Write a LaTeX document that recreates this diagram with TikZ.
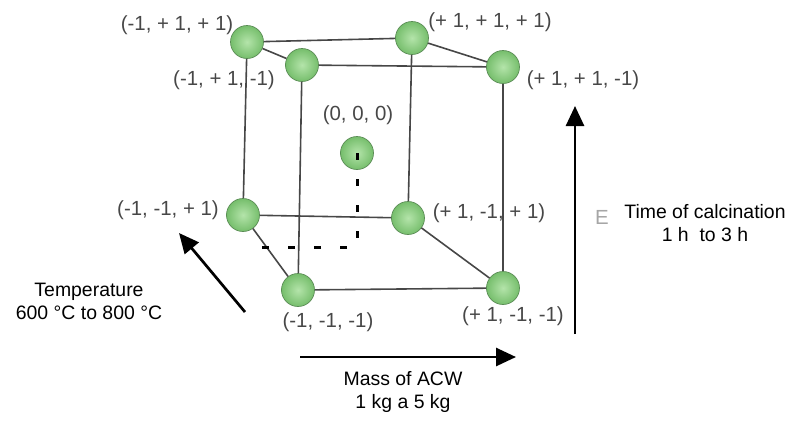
\documentclass[tikz,border=0pt]{standalone}
\usepackage{fontspec}
\setmainfont{Liberation Sans}
\usetikzlibrary{positioning, arrows.meta}

\begin{document}
\begin{tikzpicture}[
    x=1bp, y=-1bp,
    ball/.style={circle, draw={rgb,255:red,90;green,140;blue,85}, line width=0.7bp, shading=radial, inner color={rgb,255:red,180;green,228;blue,170}, outer color={rgb,255:red,118;green,190;blue,108}, minimum size=33bp, inner sep=0pt},
    edge/.style={draw=black!72, line width=1.6bp},
    lab/.style={text=black!72, font=\fontsize{20.5}{23}\selectfont, inner sep=0pt},
    axtext/.style={align=center, font=\fontsize{19.5}{23}\selectfont, inner sep=0pt},
    axis/.style={line width=2.7bp, -{Triangle[length=20bp,width=18bp]}},
    hid/.style={line width=3bp, dash pattern=on 7bp off 19bp}
]
\useasboundingbox (0,0) rectangle (796,422);

% corners of the design cube
\node[ball] (mpp) at (247,42) {};
\node[ball] (ppp) at (412,38) {};
\node[ball] (mpm) at (302,65) {};
\node[ball] (ppm) at (503,67) {};
\node[ball] (mmp) at (243,215) {};
\node[ball] (pmp) at (408,218) {};
\node[ball] (mmm) at (298,290) {};
\node[ball] (pmm) at (503,288) {};
\node[ball] (ooo) at (357,153) {};

% edges
\draw[edge] (mpp) -- (ppp);
\draw[edge] (mpp) -- (mpm);
\draw[edge] (ppp) -- (ppm);
\draw[edge] (mpm) -- (ppm);
\draw[edge] (mpp) -- (mmp);
\draw[edge] (ppp) -- (pmp);
\draw[edge] (mpm) -- (mmm);
\draw[edge] (ppm) -- (pmm);
\draw[edge] (mmp) -- (pmp);
\draw[edge] (mmp) -- (mmm);
\draw[edge] (pmp) -- (pmm);
\draw[edge] (mmm) -- (pmm);

% hidden lines from the centre point
\coordinate (hc) at (357,247);
\coordinate (he) at (262,247);
\draw[hid] (ooo.center) -- (hc) -- (he);

% labels
\node[lab] (lmpp) at (177,25) {(-1, + 1, + 1)};
\node[lab] (lmpm) at (224,80) {(-1, + 1, -1)};
\node[lab] (looo) at (358,115) {(0, 0, 0)};
\node[lab] (lppp) at (490,22) {(+ 1, + 1, + 1)};
\node[lab] (lppm) at (583,80) {(+ 1, + 1, -1)};
\node[lab] (lmmp) at (168,210) {(-1, -1, + 1)};
\node[lab] (lmmm) at (328,322) {(-1, -1, -1)};
\node[lab] (lpmp) at (489,213) {(+ 1, -1, + 1)};
\node[lab] (lpmm) at (513,316) {(+ 1, -1, -1)};
\node[lab, text=black!35] (frag) at (602,217) {E};

% factor axes
\coordinate (tb) at (575,334);
\coordinate (tt) at (575,106);
\coordinate (mb) at (300,357);
\coordinate (mt) at (516,357);
\coordinate (db) at (245,312);
\coordinate (dt) at (179,233);
\draw[axis] (tb) -- (tt);
\draw[axis] (mb) -- (mt);
\draw[axis] (db) -- (dt);

\node[axtext] (time) at (705,223) {Time of calcination\\1 h\ \ to 3 h};
\node[axtext] (temp) at (89,301) {Temperature\\600 °C to 800 °C};
\node[axtext] (mass) at (403,392) {Mass of ACW\\1 kg a 5 kg};
\end{tikzpicture}
\end{document}
